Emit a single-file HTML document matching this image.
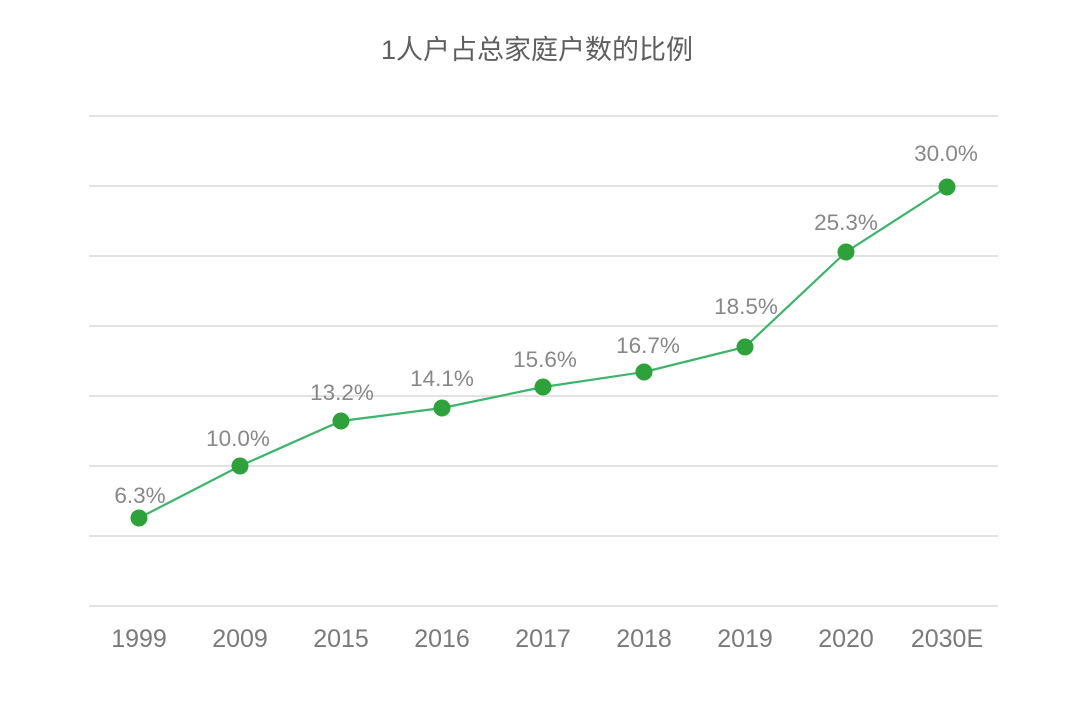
<!DOCTYPE html>
<html>
<head>
<meta charset="utf-8">
<style>
html,body{margin:0;padding:0;background:#fff;}
svg{display:block;}
</style>
</head>
<body>
<svg width="1080" height="711" viewBox="0 0 1080 711" xmlns="http://www.w3.org/2000/svg">
<rect width="1080" height="711" fill="#ffffff"/>
<text x="537" y="59" text-anchor="middle" font-family="'Liberation Sans','Noto Sans CJK SC',sans-serif" font-size="27" fill="#5f5f5f">1人户占总家庭户数的比例</text>
<g stroke="#e2e2e2" stroke-width="2">
<line x1="89" y1="116" x2="998" y2="116"/>
<line x1="89" y1="186" x2="998" y2="186"/>
<line x1="89" y1="256" x2="998" y2="256"/>
<line x1="89" y1="326" x2="998" y2="326"/>
<line x1="89" y1="396" x2="998" y2="396"/>
<line x1="89" y1="466" x2="998" y2="466"/>
<line x1="89" y1="536" x2="998" y2="536"/>
<line x1="89" y1="606" x2="998" y2="606"/>
</g>
<polyline fill="none" stroke="#3cb56a" stroke-width="2.2" points="139,518 240,466 341,421 442,408 543,387 644,372 745,347 846,252 947,187"/>
<g fill="#2ea23a">
<circle cx="139" cy="518" r="8.5"/>
<circle cx="240" cy="466" r="8.5"/>
<circle cx="341" cy="421" r="8.5"/>
<circle cx="442" cy="408" r="8.5"/>
<circle cx="543" cy="387" r="8.5"/>
<circle cx="644" cy="372" r="8.5"/>
<circle cx="745" cy="347" r="8.5"/>
<circle cx="846" cy="252" r="8.5"/>
<circle cx="947" cy="187" r="8.5"/>
</g>
<g font-family="'Liberation Sans',sans-serif" font-size="22.5" fill="#888888" text-anchor="middle">
<text x="140" y="503">6.3%</text>
<text x="238" y="446">10.0%</text>
<text x="342" y="400">13.2%</text>
<text x="442" y="386">14.1%</text>
<text x="545" y="367">15.6%</text>
<text x="648" y="353">16.7%</text>
<text x="746" y="314">18.5%</text>
<text x="846" y="230">25.3%</text>
<text x="946" y="161">30.0%</text>
</g>
<g font-family="'Liberation Sans',sans-serif" font-size="25" fill="#7a7a7a" text-anchor="middle">
<text x="139" y="647">1999</text>
<text x="240" y="647">2009</text>
<text x="341" y="647">2015</text>
<text x="442" y="647">2016</text>
<text x="543" y="647">2017</text>
<text x="644" y="647">2018</text>
<text x="745" y="647">2019</text>
<text x="846" y="647">2020</text>
<text x="947" y="647">2030E</text>
</g>
</svg>
</body>
</html>
